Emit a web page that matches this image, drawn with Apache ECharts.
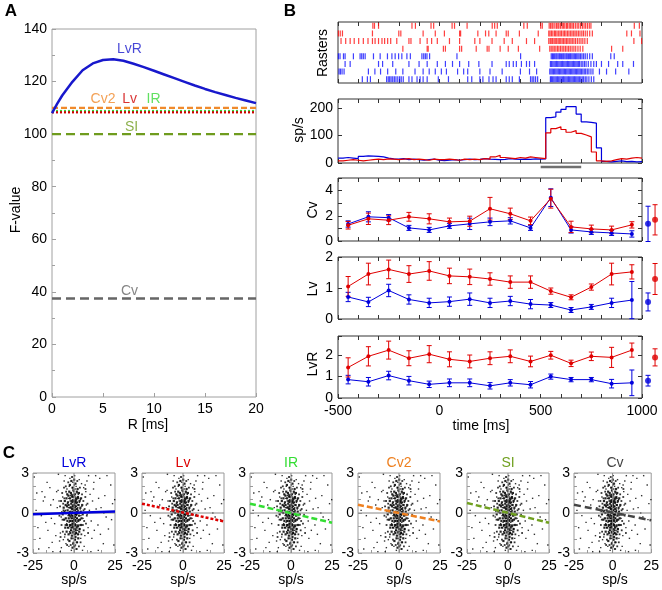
<!DOCTYPE html>
<html><head><meta charset="utf-8">
<script src="https://cdn.jsdelivr.net/npm/echarts@6/dist/echarts.min.js"></script>
<style>html,body{margin:0;padding:0;background:#fff}#c{width:662px;height:590px}</style>
</head><body><div id="c"></div>
<script>
// ================= DATA =================
// Panel A
const rValues = [0,0.5,1,2,3,4,5,6,7,8,9,10,11,12,13,14,15,16,17,18,19,20];
const fLvR   = [108,111.5,114.7,119.9,124.3,126.9,128.2,128.5,127.9,126.8,125.5,124.1,122.7,121.3,119.9,118.5,117.2,116.0,114.9,113.8,112.8,111.8];
const fCv2 = 110, fIR = 108.8, fLv = 108.3, fSI = 100, fCv = 37.5;
const rRange = [0, 20];

// Panel B
const times = [-450,-350,-250,-150,-50,50,150,250,350,450,550,650,750,850,950];
const cvRed      = [1.25,1.76,1.65,1.92,1.76,1.52,1.57,2.56,2.16,1.6,3.36,1.12,0.96,0.88,1.28];
const cvRedErr   = [0.3,0.45,0.35,0.35,0.4,0.3,0.4,0.9,0.45,0.3,0.75,0.45,0.3,0.3,0.25];
const cvBlue     = [1.35,1.92,1.85,1.04,0.88,1.2,1.36,1.52,1.6,1.04,3.44,0.88,0.72,0.64,0.56];
const cvBlueErr  = [0.25,0.4,0.25,0.2,0.2,0.2,0.45,0.3,0.25,0.2,0.7,0.25,0.2,0.2,0.25];
const lvRed      = [1.05,1.45,1.6,1.45,1.55,1.39,1.36,1.29,1.19,1.19,0.9,0.7,1.03,1.45,1.52];
const lvRedErr   = [0.32,0.35,0.3,0.27,0.3,0.25,0.25,0.2,0.2,0.2,0.1,0.08,0.1,0.35,0.23];
const lvBlue     = [0.71,0.55,0.92,0.63,0.52,0.56,0.64,0.52,0.58,0.48,0.45,0.29,0.39,0.52,0.61];
const lvBlueErr  = [0.15,0.15,0.2,0.15,0.15,0.15,0.2,0.15,0.15,0.15,0.08,0.08,0.08,0.15,0.6];
const lvrRed     = [1.43,1.95,2.24,1.86,2.05,1.81,1.71,1.86,1.95,1.71,2.0,1.62,1.95,1.9,2.24];
const lvrRedErr  = [0.45,0.45,0.42,0.35,0.4,0.35,0.3,0.3,0.3,0.25,0.18,0.15,0.2,0.47,0.33];
const lvrBlue    = [0.86,0.76,1.05,0.81,0.64,0.71,0.71,0.57,0.71,0.62,1.0,0.86,0.86,0.67,0.71];
const lvrBlueErr = [0.2,0.2,0.2,0.2,0.15,0.18,0.18,0.15,0.15,0.15,0.12,0.1,0.1,0.2,0.6];
// pooled (right side) values [mean, err]
const sideCvBlue = [1.36,1.4],  sideCvRed = [1.68,1.2];
const sideLvBlue = [0.55,0.29], sideLvRed = [1.29,0.5];
const sideLvrBlue = [0.81,0.25], sideLvrRed = [1.9,0.4];

// PSTH (25 ms bins starting at -500)
const histStart = -500, histBin = 25;
const histBlue = [18,20,18,16,24,26,25,24,22,18,15,14,16,12,14,12,10,12,14,10,9,10,12,10,12,14,12,13,16,14,13,12,13,16,14,13,14,13,15,14,15,165,168,185,195,205,205,178,150,148,145,55,6,4,6,8,5,6,4,5];
const histRed  = [8,10,12,10,8,10,12,14,12,15,14,12,14,16,12,14,12,10,14,12,12,14,12,10,14,12,14,12,16,14,22,28,20,18,16,20,18,22,20,18,16,110,125,132,122,112,118,108,102,95,40,8,6,8,12,16,14,18,20,18];
const stimWindow = [500, 700];

// Raster spike times (ms)
const rasterRed1 = [-328,-320,-300,-135,-118,-41,-28,63,75,137,261,273,286,417,434,500,508,542,549,556,561,570,578,585,590,598,606,612,619,627,633,641,648,655,662,671,680,688,697,706,714,722,731,740,748,962,987];
const rasterRed2 = [-498,-489,-478,-330,-200,-190,-80,-20,25,100,105,190,228,244,280,330,340,395,488,540,546,553,560,568,574,581,589,596,603,611,618,625,633,640,648,655,663,670,678,686,694,703,711,720,730,742,755,925,948,990];
const rasterRed3 = [-485,-462,-440,-420,-398,-375,-352,-330,-317,-300,-283,-270,-255,-240,-210,-150,-140,-95,-60,-38,-10,50,100,175,200,260,320,360,430,470,540,547,552,559,566,572,579,586,592,599,606,613,620,627,634,641,649,656,664,672,681,690,699,708,718,730,960,998];
const rasterRed4 = [-180,-60,-55,20,30,100,110,182,236,245,300,340,390,495,545,552,560,567,575,583,590,598,606,614,622,630,638,646,655,664,673,684,695,708,850,905];
const rasterBlue1 = [-498,-490,-473,-465,-424,-391,-383,-375,-366,-325,-292,-256,-234,-218,-201,-185,-160,-143,-86,-77,-69,-61,-48,87,401,552,558,563,569,575,580,586,592,597,603,609,614,620,626,631,637,643,648,654,660,666,672,678,684,690,697,704,712,720,730,742,755,846,863];
const rasterBlue2 = [-465,-440,-300,-280,-230,-150,-100,-60,-10,30,65,100,145,195,260,330,345,365,380,405,430,445,470,548,554,560,566,572,578,584,590,596,602,608,614,620,626,632,638,644,650,656,662,668,674,680,686,692,700,708,716,724,735,748,762,775,800,835,880,905,958];
const rasterBlue3 = [-495,-488,-480,-470,-350,-318,-290,-255,-215,-180,-120,-80,-50,-20,10,35,90,120,140,200,250,310,400,445,480,545,551,557,563,569,575,581,587,593,599,605,611,617,623,629,635,641,647,653,659,665,671,677,683,689,695,701,708,715,722,730,738,748,758,790,825,870,935];
const rasterBlue4 = [-380,-355,-340,-260,-252,-245,-238,-230,-222,-214,-205,-196,-188,-178,-150,-135,-110,-95,-80,-60,-5,45,140,160,200,215,245,265,280,330,345,360,395,450,458,466,475,485,548,553,559,565,571,577,583,589,595,601,607,613,619,625,631,637,643,649,655,661,667,673,679,685,691,698,705,712,720,728,738,750,762];

// Panel C: (sp/s deviation, z-scored metric) points: spread cloud, mid ring, dense core
const cloudPoints = [
[0.5,0.2],[-1.2,0.8],[1.8,-0.4],[-0.3,-1.1],[2.4,0.6],[-2.1,-0.3],[0.9,1.2],[-0.8,-0.6],[3.1,-0.9],[-3.4,0.4],
[0.1,-0.2],[1.4,0.1],[-1.7,1.4],[2.2,-1.3],[-0.5,0.5],[0.7,-0.8],[-2.6,-1.0],[3.8,0.3],[-1.1,0.0],[1.1,0.9],
[-0.2,1.6],[2.9,1.1],[-3.0,-0.7],[0.3,-1.4],[-1.5,0.3],[1.6,-0.2],[-0.9,1.0],[0.4,0.7],[-2.3,0.9],[2.0,0.0],
[-0.6,-0.3],[1.3,-1.0],[-1.9,-1.3],[0.8,0.4],[-0.1,-0.7],[2.7,-0.5],[-2.8,0.1],[0.0,1.0],[1.9,1.5],[-1.3,-0.9],
[4.2,-0.2],[-4.0,0.7],[0.6,-0.1],[-0.4,0.2],[1.0,-0.5],[-1.0,0.6],[0.2,1.3],[-0.7,-1.5],[3.3,0.8],[-3.6,-0.2],
[1.5,0.5],[-1.6,-0.1],[0.9,-1.2],[-0.3,0.9],[2.5,0.2],[-2.4,-0.6],[0.1,0.4],[-0.9,-0.2],[1.7,-0.7],[-1.4,1.2],
[4.8,0.5],[-4.5,-0.8],[0.4,-0.9],[-0.2,-0.5],[1.2,0.3],[-1.8,0.5],[2.3,-0.9],[-2.2,1.3],[0.7,1.8],[-0.5,-1.9],
[3.5,-1.2],[-3.2,1.1],[0.0,-1.0],[1.0,1.1],[-1.1,-1.1],[2.1,0.8],[-0.6,1.4],[0.5,-1.6],[-2.0,-0.9],[1.4,-1.5],
[5.5,-0.4],[-5.2,0.2],[0.3,0.0],[-0.1,0.3],[0.8,-0.3],[-0.8,0.1],[1.6,0.7],[-1.2,-0.4],[2.6,1.4],[-2.7,-1.4],
[0.2,2.1],[-0.4,-2.2],[1.3,2.0],[-1.0,1.9],[0.6,-2.0],[3.9,1.0],[-3.8,-1.1],[2.8,-1.6],[-0.7,2.3],[0.9,-2.4],
[7.5,0.6],[-7.8,-0.3],[8.6,-1.1],[-6.9,1.2],[9.4,0.2],[-9.1,0.9],[6.6,-1.7],[-8.3,-1.5],[10.5,-0.6],[-10.2,0.4],
[7.2,1.6],[-6.5,-2.0],[11.3,0.9],[-11.8,-0.8],[8.0,-0.1],[-7.4,0.1],[6.8,2.1],[-9.7,1.7],[12.4,-1.3],[-12.6,1.0],
[3.2,2.5],[-2.5,2.6],[1.8,-2.7],[-3.1,-2.5],[4.6,2.2],[-4.9,-2.3],[5.9,1.9],[-5.7,-1.8],[0.4,2.8],[-1.6,-2.8],
[13.5,0.3],[-13.8,-0.4],[9.8,1.4],[-8.8,-2.1],[10.9,-1.9],[-10.6,1.6],[6.2,-2.5],[-6.0,2.4],[14.6,-0.9],[-14.2,0.6],
[2.1,-2.2],[-2.9,2.0],[4.1,-1.9],[-4.3,1.8],[7.9,2.4],[-7.7,-2.6],[11.9,1.8],[-11.1,-1.7],[5.2,-2.8],[-5.4,2.8],
[16.5,0.4],[-17.2,-0.7],[18.8,1.3],[-19.5,1.6],[21.0,-1.2],[-20.8,-1.9],[23.5,0.7],[-23.1,0.2],[17.9,-2.3],[-16.4,2.3],
[15.7,2.6],[-15.3,-2.6],[19.6,-0.3],[-18.7,0.9],[22.4,2.1],[-22.0,-1.1],[24.3,-2.4],[-24.2,2.7],[16.1,-1.6],[-17.8,1.2],
[13.2,2.8],[-12.9,-2.9],[20.1,2.8],[-21.5,-2.7],[14.8,-2.8],[-14.7,1.9],[24.8,1.0],[-9.5,2.9],[10.3,-2.9],[18.2,0.0],
[-19.9,-0.2],[12.1,2.3],[-13.3,-2.2],[22.9,-0.5],[-22.7,1.5],[8.9,2.8],[-8.4,-2.9],[15.0,1.1],[-15.9,-1.3],[-1.3,0.4],
[0.6,0.9],[-0.4,-0.4],[1.9,-0.1],[-1.5,-0.6],[0.2,-0.4],[-0.7,0.8],[1.1,-0.9],[-2.5,0.4],[2.3,0.4],[0.0,0.6]
];
const cloudMid = [
[-8.5,0.5],[-7.6,-0.9],[-8.9,-0.2],[-7.2,1.5],[-6.8,-1.4],[-7.9,0.9],[-6.4,0.2],[-8.2,-1.8],[-6.1,1.9],[-7.0,-0.5],
[6.5,0.3],[7.3,-0.8],[8.2,0.7],[5.9,-1.3],[6.9,1.2],[7.8,-0.2],[5.7,0.9],[8.6,-1.5],[6.2,-0.6],[7.0,1.8],
[-5.5,-1.6],[-4.8,1.6],[-5.9,1.1],[-5.2,-0.9],[4.9,1.4],[5.4,-0.9],[4.5,-1.6],[5.8,0.2],[-6.6,0.7],[-5.0,2.0],
[-3.7,-2.0],[3.6,1.9],[-4.2,-2.4],[4.0,-2.2],[-2.0,-2.4],[2.0,2.4],[-3.5,2.3],[3.0,-2.5],[-1.2,2.7],[1.4,-2.7]
];
const cloudCore = [
[-2.5,2.1],[-0.8,1.9],[0.9,2.2],[2.2,1.8],[-1.6,2.4],[0.1,2.5],
[-4.1,1.4],[-2.9,1.6],[-1.9,1.5],[-0.4,1.7],[0.6,1.4],[1.7,1.6],[3.0,1.5],[-3.4,1.3],[2.4,1.2],[-1.1,1.3],
[-5.6,0.9],[-4.6,1.1],[-3.7,0.8],[-2.4,1.1],[-1.4,0.9],[-0.5,1.2],[0.5,0.8],[1.3,1.0],[2.0,1.1],[3.4,0.9],[4.3,1.1],[-0.2,0.9],
[-6.3,0.4],[-5.1,0.6],[-4.3,0.5],[-3.3,0.6],[-2.2,0.4],[-1.7,0.7],[-0.6,0.5],[0.2,0.6],[0.9,0.5],[1.9,0.3],[2.8,0.6],[3.9,0.4],[5.0,0.6],[-1.0,0.3],[1.5,0.8],
[-6.9,-0.1],[-5.8,0.1],[-4.7,0.0],[-3.9,0.2],[-3.0,-0.1],[-2.0,0.1],[-1.3,-0.2],[-0.4,0.0],[0.5,0.2],[1.2,-0.1],[2.2,0.1],[3.1,-0.2],[4.1,0.1],[5.3,-0.1],[-2.6,-0.2],[0.8,-0.1],
[-6.0,-0.5],[-5.0,-0.4],[-4.0,-0.6],[-3.2,-0.4],[-2.3,-0.6],[-1.5,-0.4],[-0.7,-0.6],[0.1,-0.5],[0.9,-0.6],[1.8,-0.4],[2.6,-0.6],[3.6,-0.5],[4.6,-0.4],[-1.0,-0.8],[0.5,-0.3],
[-5.3,-1.1],[-4.3,-0.9],[-3.5,-1.1],[-2.5,-0.9],[-1.6,-1.1],[-0.8,-1.0],[0.0,-1.2],[0.8,-0.9],[1.6,-1.1],[2.5,-1.0],[3.4,-1.2],[4.2,-0.9],[-0.3,-0.8],[1.1,-1.3],
[-4.5,-1.4],[-3.3,-1.6],[-2.2,-1.5],[-1.3,-1.7],[-0.4,-1.4],[0.4,-1.6],[1.3,-1.5],[2.3,-1.6],[3.2,-1.4],[-1.8,-1.3],[0.9,-1.8],
[-2.8,-2.1],[-1.5,-1.9],[-0.5,-2.3],[0.6,-2.0],[1.7,-2.2],[2.6,-1.9],[-0.9,-2.6],[0.2,-2.5]
];
const regNames = ['LvR','Lv','IR','Cv2','SI','Cv'];
const regLeft  = [-0.1, 0.7, 0.7, 0.62, 0.75, 0.62];
const regRight = [0.12,-0.63,-0.73,-0.63,-0.73,-0.55];
const cXRange = [-25, 25], cYRange = [-3, 3];

// ================= STYLE / LAYOUT =================
const FONT = 'Liberation Sans, Arial, Helvetica, sans-serif';
const BLUE = '#0000dd', RED = '#e00000';
const colA = {LvR:'#1818cc', Cv2:'#f08a2c', Lv:'#d00000', IR:'#3ad83a', SI:'#6f9c1e', Cv:'#666666'};
const colC = ['#0000dd','#dd0000','#33dd33','#ee8020','#70a020','#444444'];
const regStyles = [
  {type:'solid', width:2.5},
  {type:[3,2], width:2.5},
  {type:[6,3], width:2.5},
  {type:[6,3], width:2.5},
  {type:[6,3], width:2.5},
  {type:[7,4], width:2.5}
];

const grids=[], xAxes=[], yAxes=[], series=[], graphics=[];

function tickAxis(opts, color){
  return Object.assign({
    type:'value', splitLine:{show:false}, axisLine:{show:false, onZero:false},
    axisTick:{show:true, inside:true, length:4, lineStyle:{color:color, width:1}},
    axisLabel:{show:true, color:'#000', fontSize:14, fontFamily:FONT, margin:5},
  }, opts);
}
function hiddenAxis(opts){
  return Object.assign({type:'value', show:false, axisLine:{show:false, onZero:false}, axisTick:{show:false}, axisLabel:{show:false}, splitLine:{show:false}}, opts);
}
function addGrid(box, border){
  grids.push({left:box.left, top:box.top, width:box.width, height:box.height, show:!!border,
    borderColor:border||'transparent', borderWidth:1, backgroundColor:'transparent'});
  return grids.length-1;
}
function text(str, x, y, o){
  o = o||{};
  graphics.push({type:'text', x:x, y:y, rotation:o.rot||0, z:100,
    style:{text:str, fill:o.color||'#000', font:(o.weight||'normal')+' '+(o.size||14)+'px '+FONT,
      textAlign:o.align||'center', textVerticalAlign:'middle', align:o.align||'center', verticalAlign:'middle'}});
}

// ---------- Panel A ----------
(function(){
  const g = addGrid({left:52, top:29, width:204, height:368}, '#a0a0a0');
  const xi = xAxes.length;
  xAxes.push(tickAxis({gridIndex:g, min:rRange[0], max:rRange[1], interval:5,
    axisLabel:{color:'#000', fontSize:14, fontFamily:FONT, margin:5}}, '#a0a0a0'));
  const yi = yAxes.length;
  yAxes.push(tickAxis({gridIndex:g, min:0, max:140, interval:20,
    minorTick:{show:true, splitNumber:2, length:3, lineStyle:{color:'#a0a0a0'}},
    axisLabel:{color:'#000', fontSize:14, fontFamily:FONT, margin:5}}, '#a0a0a0'));
  const flat = (v,color,type,w)=>({type:'line', xAxisIndex:xi, yAxisIndex:yi, symbol:'none',
    data:[[rRange[0],v],[rRange[1],v]], lineStyle:{color:color, type:type, width:w}, z:3});
  series.push(flat(fCv,  colA.Cv,  [9,5], 2.5));
  series.push(flat(fSI,  colA.SI,  [9,5], 2.2));
  series.push(flat(fCv2, colA.Cv2, [6,3], 2.2));
  series.push(flat(fIR,  colA.IR,  [2,2], 2.2));
  series.push(flat(fLv,  colA.Lv,  [2,2], 2.2));
  series.push({type:'line', xAxisIndex:xi, yAxisIndex:yi, symbol:'none', smooth:false,
    data: rValues.map((r,i)=>[r, fLvR[i]]), lineStyle:{color:colA.LvR, width:2.5, join:'round'}, z:4});
  const labs = [['LvR',7.6,132.3],['Cv2',5.0,113.5],['Lv',7.6,113.5],['IR',9.95,113.5],['SI',7.8,102.8],['Cv',7.6,40.4]];
  series.push({type:'scatter', xAxisIndex:xi, yAxisIndex:yi, symbolSize:0, z:5,
    data: labs.map(l=>({value:[l[1],l[2]], label:{show:true, position:'inside', formatter:l[0],
      color:colA[l[0]], fontSize:14, fontFamily:FONT}}))});
  text('F-value', 16, 210, {rot:Math.PI/2});
  text('R [ms]', 148, 425);
  text('A', 11, 11, {weight:'bold', size:17});
})();

// ---------- Panel B ----------
const BL = 338, BW = 304;
const bBoxes = {
  raster:{left:BL, top:22,  width:BW, height:61},
  hist:  {left:BL, top:99,  width:BW, height:64},
  cv:    {left:BL, top:178, width:BW, height:63},
  lv:    {left:BL, top:257, width:BW, height:62},
  lvr:   {left:BL, top:336, width:BW, height:62}
};
const BCOL = '#333';
function bPanel(box, ymin, ymax, yint, ylabFmt, showX, yTicks, yInverse){
  const g = addGrid(box, BCOL);
  const xi = xAxes.length;
  xAxes.push(tickAxis({gridIndex:g, min:-500, max:1000, interval:100, position:'bottom',
    axisLabel:{show:showX, color:'#000', fontSize:14, fontFamily:FONT, margin:6,
      formatter:v=> (v%500===0 ? String(v) : '')}}, BCOL));
  xAxes.push(tickAxis({gridIndex:g, min:-500, max:1000, interval:100, position:'top',
    axisLabel:{show:false}}, BCOL));
  const yi = yAxes.length;
  yAxes.push(tickAxis({gridIndex:g, min:ymin, max:ymax, interval:yint, inverse:!!yInverse, position:'left',
    axisTick:{show:yTicks, inside:true, length:4, lineStyle:{color:BCOL}},
    axisLabel:{show:!!ylabFmt, color:'#000', fontSize:14, fontFamily:FONT, margin:5, formatter:ylabFmt||undefined}}, BCOL));
  yAxes.push(tickAxis({gridIndex:g, min:ymin, max:ymax, interval:yint, inverse:!!yInverse, position:'right',
    axisTick:{show:yTicks, inside:true, length:4, lineStyle:{color:BCOL}},
    axisLabel:{show:false}}, BCOL));
  return {xi, yi};
}
function errRender(color){
  return function(params, api){
    const x=api.value(0), y=api.value(1), e=api.value(2);
    const t=api.coord([x,y+e]), b=api.coord([x,y-e]); const w=2.5;
    const st={stroke:color, lineWidth:1};
    return {type:'group', children:[
      {type:'line', shape:{x1:t[0],y1:t[1],x2:b[0],y2:b[1]}, style:st},
      {type:'line', shape:{x1:t[0]-w,y1:t[1],x2:t[0]+w,y2:t[1]}, style:st},
      {type:'line', shape:{x1:b[0]-w,y1:b[1],x2:b[0]+w,y2:b[1]}, style:st}
    ]};
  };
}
function metricSeries(ax, vals, errs, color){
  series.push({type:'custom', xAxisIndex:ax.xi, yAxisIndex:ax.yi, renderItem:errRender(color),
    encode:{x:0,y:1}, data: times.map((t,i)=>[t, vals[i], errs[i]]), z:3});
  series.push({type:'line', xAxisIndex:ax.xi, yAxisIndex:ax.yi, symbol:'circle', symbolSize:4,
    data: times.map((t,i)=>[t, vals[i]]), lineStyle:{color:color, width:1}, itemStyle:{color:color}, z:4});
}
function sidePanel(box, ymin, ymax, blue, red){
  const g = addGrid({left:box.left+box.width+1, top:box.top, width:18, height:box.height}, null);
  const xi = xAxes.length, yi = yAxes.length;
  xAxes.push(hiddenAxis({gridIndex:g, min:0, max:1}));
  yAxes.push(hiddenAxis({gridIndex:g, min:ymin, max:ymax}));
  [[0.28, blue, BLUE],[0.67, red, RED]].forEach(p=>{
    series.push({type:'custom', xAxisIndex:xi, yAxisIndex:yi, renderItem:errRender(p[2]), encode:{x:0,y:1},
      data:[[p[0], p[1][0], p[1][1]]], z:3});
    series.push({type:'scatter', xAxisIndex:xi, yAxisIndex:yi, symbol:'circle', symbolSize:6,
      data:[[p[0], p[1][0]]], itemStyle:{color:p[2]}, z:4});
  });
}

// Rasters
(function(){
  const ax = bPanel(bBoxes.raster, 0.5, 8.5, 1, null, false, false, true);
  const trials = [rasterRed1, rasterRed2, rasterRed3, rasterRed4, rasterBlue1, rasterBlue2, rasterBlue3, rasterBlue4];
  trials.forEach((tr, k)=>{
    const color = k<4 ? '#ff1010' : '#1010ff';
    series.push({type:'scatter', xAxisIndex:ax.xi, yAxisIndex:ax.yi, symbol:'rect', symbolSize:[1.2,6],
      data: tr.map(t=>[t, k+1]), itemStyle:{color:color}, z:3});
  });
  text('Rasters', 323, 53, {rot:Math.PI/2});
  text('B', 290, 11, {weight:'bold', size:17});
})();
// PSTH
(function(){
  const ax = bPanel(bBoxes.hist, 0, 233, 100, v=>String(v), false, true);
  const mk = arr => { const d = arr.map((v,i)=>[histStart + i*histBin, v]); d.push([histStart + arr.length*histBin, arr[arr.length-1]]); return d; };
  series.push({type:'line', xAxisIndex:ax.xi, yAxisIndex:ax.yi, step:'end', symbol:'none', data:mk(histBlue), lineStyle:{color:BLUE, width:1.2}, z:3});
  series.push({type:'line', xAxisIndex:ax.xi, yAxisIndex:ax.yi, step:'end', symbol:'none', data:mk(histRed), lineStyle:{color:RED, width:1.2}, z:4});
  text('sp/s', 299, 130, {rot:Math.PI/2});
  // stimulus bar
  const g = addGrid({left:BL, top:164, width:BW, height:6}, null);
  const xi = xAxes.length, yi = yAxes.length;
  xAxes.push(hiddenAxis({gridIndex:g, min:-500, max:1000}));
  yAxes.push(hiddenAxis({gridIndex:g, min:-1, max:1}));
  series.push({type:'line', xAxisIndex:xi, yAxisIndex:yi, symbol:'none', data:[[stimWindow[0],0],[stimWindow[1],0]],
    lineStyle:{color:'#707070', width:2.5}});
})();
// Cv
(function(){
  const ax = bPanel(bBoxes.cv, 0, 5, 1, v=>(v%2===0?String(v):''), false, true);
  metricSeries(ax, cvBlue, cvBlueErr, BLUE);
  metricSeries(ax, cvRed, cvRedErr, RED);
  sidePanel(bBoxes.cv, 0, 5, sideCvBlue, sideCvRed);
  text('Cv', 313, 210, {rot:Math.PI/2});
})();
// Lv
(function(){
  const ax = bPanel(bBoxes.lv, 0, 2, 1, v=>String(v), false, true);
  metricSeries(ax, lvBlue, lvBlueErr, BLUE);
  metricSeries(ax, lvRed, lvRedErr, RED);
  sidePanel(bBoxes.lv, 0, 2, sideLvBlue, sideLvRed);
  text('Lv', 313, 289, {rot:Math.PI/2});
})();
// LvR
(function(){
  const ax = bPanel(bBoxes.lvr, 0, 2.9, 1, v=>(Number.isInteger(v)?String(v):''), true, true);
  metricSeries(ax, lvrBlue, lvrBlueErr, BLUE);
  metricSeries(ax, lvrRed, lvrRedErr, RED);
  sidePanel(bBoxes.lvr, 0, 2.9, sideLvrBlue, sideLvrRed);
  text('LvR', 313, 364, {rot:Math.PI/2});
  text('time [ms]', 481, 426);
})();

// ---------- Panel C ----------
const cLefts = [33, 142, 250, 358, 467, 574];
const CCOL = '#999';
cLefts.forEach((L, k)=>{
  const g = addGrid({left:L, top:473, width:82, height:80}, CCOL);
  const xi = xAxes.length, yi = yAxes.length;
  xAxes.push(tickAxis({gridIndex:g, min:cXRange[0], max:cXRange[1], interval:25,
    minorTick:{show:true, splitNumber:3, length:3, lineStyle:{color:CCOL}},
    axisLabel:{color:'#000', fontSize:14, fontFamily:FONT, margin:6}}, CCOL));
  yAxes.push(tickAxis({gridIndex:g, min:cYRange[0], max:cYRange[1], interval:3,
    minorTick:{show:true, splitNumber:3, length:3, lineStyle:{color:CCOL}},
    axisLabel:{color:'#000', fontSize:14, fontFamily:FONT, margin:4}}, CCOL));
  series.push({type:'scatter', xAxisIndex:xi, yAxisIndex:yi, symbol:'rect', symbolSize:1.4,
    data:cloudPoints, itemStyle:{color:'#000'}, z:2});
  series.push({type:'scatter', xAxisIndex:xi, yAxisIndex:yi, symbol:'rect', symbolSize:1.8,
    data:cloudMid, itemStyle:{color:'#000'}, z:2});
  series.push({type:'scatter', xAxisIndex:xi, yAxisIndex:yi, symbol:'rect', symbolSize:2.2,
    data:cloudCore, itemStyle:{color:'#000', opacity:0.85}, z:2});
  series.push({type:'line', xAxisIndex:xi, yAxisIndex:yi, symbol:'none', data:[[cXRange[0],0],[cXRange[1],0]], lineStyle:{color:'#888', width:1}, z:3});
  series.push({type:'line', xAxisIndex:xi, yAxisIndex:yi, symbol:'none', data:[[0,cYRange[0]],[0,cYRange[1]]], lineStyle:{color:'#888', width:1}, z:3});
  series.push({type:'line', xAxisIndex:xi, yAxisIndex:yi, symbol:'none',
    data:[[cXRange[0],regLeft[k]],[cXRange[1],regRight[k]]],
    lineStyle:{color:colC[k], type:regStyles[k].type, width:regStyles[k].width}, z:4});
  text(regNames[k], L+41, 463, {color:colC[k]});
  text('sp/s', L+41, 580);
});
text('C', 9, 453, {weight:'bold', size:17});

const chart = echarts.init(document.getElementById('c'), null, {renderer:'canvas'});
chart.setOption({animation:false, backgroundColor:'#fff', grid:grids, xAxis:xAxes, yAxis:yAxes, series:series, graphic:graphics});
</script></body></html>
